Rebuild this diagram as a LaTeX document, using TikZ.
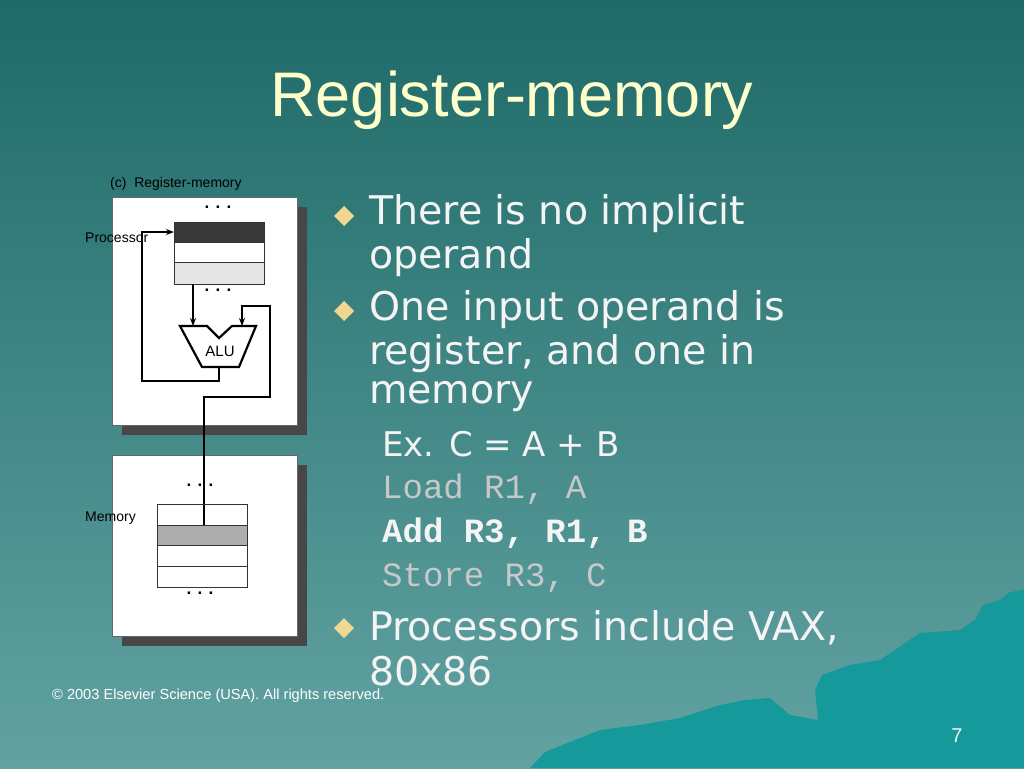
\documentclass[tikz,border=0pt]{standalone}
\usepackage{fontspec}
\setmainfont{DejaVu Sans}
\setsansfont{Liberation Sans}
\setmonofont{Liberation Mono}
\usetikzlibrary{arrows.meta}
\definecolor{bgtop}{HTML}{1E6A68}
\definecolor{bgbot}{HTML}{62A3A2}
\definecolor{mount}{HTML}{15999A}
\definecolor{titlec}{HTML}{FFFFCC}
\definecolor{txt}{HTML}{F4F4F4}
\definecolor{codeg}{HTML}{C8C8C8}
\definecolor{bul}{HTML}{F0D890}
\tikzset{
  panel/.style={draw=black!60,fill=white,line width=0.6pt},
  shadowbox/.style={fill=black!72},
  wire/.style={line width=2.2pt,black},
  arr/.style={wire,-{Stealth[length=8pt,width=6pt]}},
  cell/.style={draw=black!80,line width=0.9pt},
  lbl/.style={font=\sffamily\fontsize{14}{16}\selectfont,black,anchor=west,inner sep=0},
  dots/.style={font=\sffamily\bfseries\fontsize{17}{17}\selectfont},
  bt/.style={font=\fontsize{39.5}{44}\selectfont,txt,anchor=west,inner sep=0},
  ct/.style={font=\ttfamily\fontsize{34}{38}\selectfont,anchor=west,inner sep=0},
}
\begin{document}
\begin{tikzpicture}[x=1pt,y=-1pt]
\useasboundingbox (0,0) rectangle (1024,768);
\shade[top color=bgtop,bottom color=bgbot] (0,0) rectangle (1024,768);
\fill[mount] (530,768) -- (545,752) -- (600,730) -- (640,725) -- (680,718) -- (720,705) -- (745,700) -- (770,698) -- (790,715) -- (818,720) -- (815,690) -- (822,675) -- (850,665) -- (880,660) -- (920,633) -- (960,630) -- (975,620) -- (983,605) -- (1000,600) -- (1010,592) -- (1024,590) -- (1024,768) -- cycle;
\node[font=\sffamily\fontsize{63}{70}\selectfont,text=titlec] (title) at (512,100) {Register-memory};
% diagram
\node[lbl] (cap) at (110,184) {(c)\ \ Register-memory};
\fill[shadowbox] (122,207) rectangle (307,435);
\draw[panel] (112,197) rectangle (297,425);
\fill[shadowbox] (122,465) rectangle (307,646);
\draw[panel] (112,455) rectangle (297,636);
\fill[black!78] (174,222) rectangle (264,242);
\fill[black!10] (174,262) rectangle (264,284);
\draw[cell] (174,222) rectangle (264,284);
\draw[cell] (174,242) -- (264,242);
\draw[cell] (174,262) -- (264,262);
\coordinate (rtop) at (174,232);
\node[dots] (d1) at (218,207) {. . .};
\node[dots] (d2) at (218,290) {. . .};
% ALU
\draw[line width=2.2pt,fill=white,line join=miter] (180,326) -- (207,326) -- (219,338) -- (232,326) -- (256,326) -- (239,367) -- (202,367) -- cycle;
\node[font=\sffamily\fontsize{15}{16}\selectfont] (alu) at (220,351) {ALU};
\coordinate (ina) at (193,326);
\coordinate (inb) at (242,326);
\coordinate (outa) at (219,367);
\draw[arr] (193,284) -- (ina);
\draw[arr] (270,398) -- (270,306) -- (242,306) -- (inb);
\draw[wire] (270,397) -- (204,397) -- (204,526);
\draw[arr] (outa) -- (219,381) -- (142,381) -- (142,232) -- (rtop);
% memory cells
\fill[black!32] (157,525) rectangle (247,545);
\draw[cell] (157,504) rectangle (247,587);
\draw[cell] (157,525) -- (247,525);
\draw[cell] (157,545) -- (247,545);
\draw[cell] (157,566) -- (247,566);
\node[dots] (d3) at (200,485) {. . .};
\node[dots] (d4) at (200,593) {. . .};
\node[lbl] (proc) at (85,238) {Processor};
\node[lbl] (mem) at (85,518) {Memory};
\node[font=\sffamily\fontsize{14.6}{16}\selectfont,white,anchor=west,inner sep=0] (copy) at (52,696) {© 2003 Elsevier Science (USA). All rights reserved.};
% bullets
\foreach \y in {216,311,628}{
  \fill[bul] (334,\y) -- (344,\y-10) -- (354,\y) -- (344,\y+10) -- cycle;
}
\node[bt] (t1) at (369,214) {There is no implicit};
\node[bt] (t2) at (369,258) {operand};
\node[bt] (t3) at (369,310) {One input operand is};
\node[bt] (t4) at (369,354) {register, and one in};
\node[bt] (t5) at (369,397) {memory};
\node[font=\fontsize{34}{38}\selectfont,txt,anchor=west,inner sep=0] (t6) at (382,444) {Ex. C = A + B};
\node[ct,codeg] (t7) at (382,489) {Load R1, A};
\node[ct,txt,font=\ttfamily\bfseries\fontsize{34}{38}\selectfont] (t8) at (382,533) {Add R3, R1, B};
\node[ct,codeg] (t9) at (382,578) {Store R3, C};
\node[bt] (t10) at (369,628) {Processors include VAX,};
\node[bt] (t11) at (369,671) {80x86};
\node[font=\sffamily\fontsize{20}{22}\selectfont,txt] (pg) at (957,736) {7};
\end{tikzpicture}
\end{document}
